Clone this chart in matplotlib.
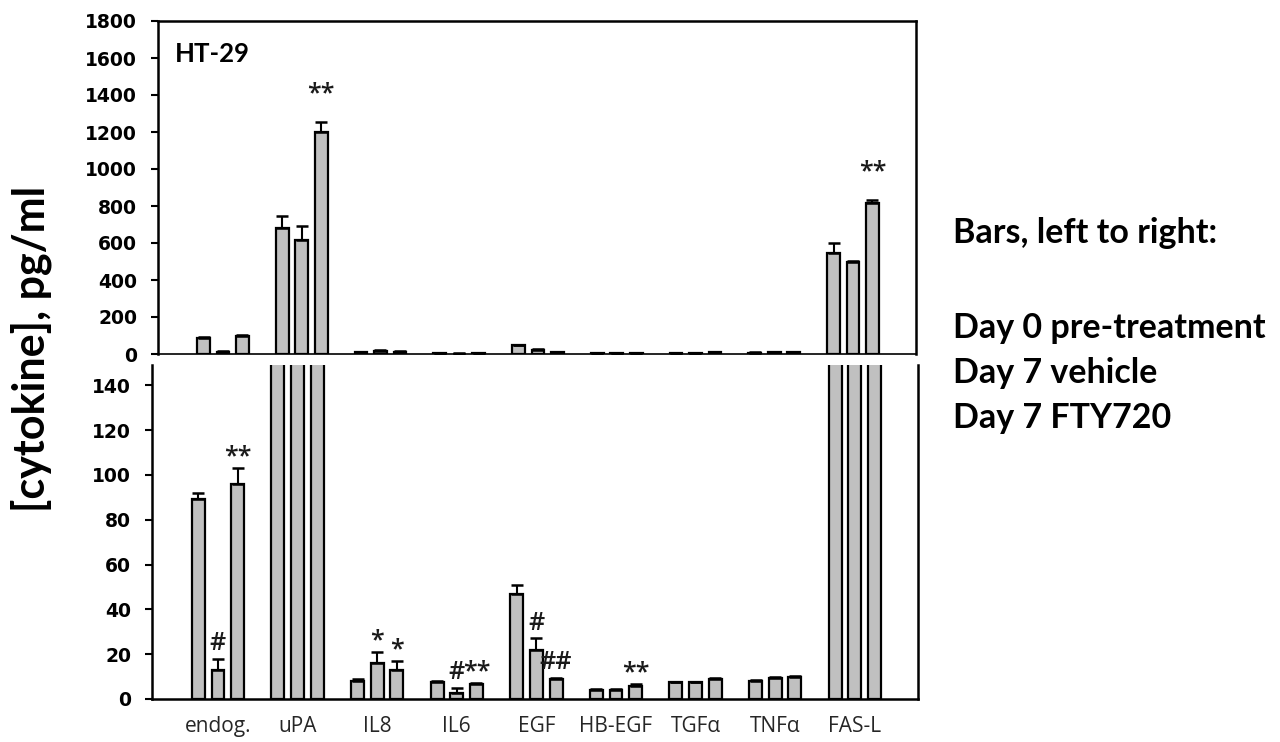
import numpy as np
import matplotlib.pyplot as plt

# ---------------------------------------------------------
# data (pg/ml)
# ---------------------------------------------------------
cytokines = ["endog.", "uPA", "IL8", "IL6", "EGF", "HB-EGF", "TGFα", "TNFα", "FAS-L"]

day0 = [89, 680, 8.2, 7.7, 47, 4.0, 7.4, 8.1, 545]
day0_err = [3, 65, 0.5, 0.3, 4, 0.3, 0.4, 0.4, 55]

vehicle = [13, 615, 16.2, 2.7, 22, 4.0, 7.4, 9.2, 500]
vehicle_err = [5, 75, 4.6, 2.3, 5, 0.3, 0.4, 0.4, 5]

fty720 = [96, 1200, 12.9, 6.7, 8.9, 6.0, 8.9, 9.9, 815]
fty720_err = [7, 55, 4, 0.5, 0.5, 0.5, 0.4, 0.4, 20]

series_labels = ["Day 0 pre-treatment", "Day 7 vehicle", "Day 7 FTY720"]

# significance marks: (cytokine, bar index, text)
marks = [
    ("endog.", 1, "#"), ("endog.", 2, "**"),
    ("uPA", 2, "**"),
    ("IL8", 1, "*"), ("IL8", 2, "*"),
    ("IL6", 1, "#"), ("IL6", 2, "**"),
    ("EGF", 1, "#"), ("EGF", 2, "##"),
    ("HB-EGF", 2, "**"),
    ("FAS-L", 2, "**"),
]

top_ticks = np.arange(0, 1801, 200)
bot_ticks = np.arange(0, 141, 20)

# ---------------------------------------------------------
# figure
# ---------------------------------------------------------
W, H = 1280, 742
fig = plt.figure(figsize=(W / 100, H / 100), dpi=100)

def px_axes(x0, y0, x1, y1):
    return fig.add_axes([x0 / W, 1 - y1 / H, (x1 - x0) / W, (y1 - y0) / H])

ax_top = px_axes(158, 21, 916, 354)
ax_bot = px_axes(152, 365, 918, 699)

means = [day0, vehicle, fty720]
errs = [day0_err, vehicle_err, fty720_err]
x = np.arange(len(cytokines))
step = 0.247
width = 0.163

tick_font = dict(family="DejaVu Sans", weight="bold", size=13.5)

for ax in (ax_top, ax_bot):
    for k in range(3):
        m = np.array(means[k], dtype=float)
        e = np.array(errs[k], dtype=float)
        ax.bar(x + (k - 1) * step, m, width, color="#c0c0c0", edgecolor="black",
               linewidth=1.6, zorder=2)
        ax.errorbar(x + (k - 1) * step, m, yerr=[np.zeros_like(e), e], fmt="none",
                    ecolor="black", elinewidth=1.5, capsize=4.5, capthick=1.8, zorder=3)
    ax.tick_params(axis="y", direction="out", length=5, width=1.5, pad=10)
    for s in ax.spines.values():
        s.set_linewidth(1.8)

# top panel
ax_top.set_xlim(-0.825, 8.8)
ax_top.set_ylim(0, 1800)
ax_top.set_yticks(top_ticks)
ax_top.set_yticklabels([str(v) for v in top_ticks], **tick_font)
ax_top.set_xticks([])
ax_top.spines["bottom"].set_linewidth(1.2)
ax_top.text(0.022, 0.9, "HT-29", transform=ax_top.transAxes, family="Lato",
            weight="bold", size=18.5, va="center", ha="left")

# bottom panel
ax_bot.set_xlim(-0.829, 8.794)
ax_bot.set_ylim(0, 149)
ax_bot.set_yticks(bot_ticks)
ax_bot.set_yticklabels([str(v) for v in bot_ticks], **tick_font)
ax_bot.set_xticks(x)
ax_bot.set_xticklabels(cytokines, family="Open Sans", size=15, color="#262626")
ax_bot.tick_params(axis="x", length=0, pad=12)
ax_bot.spines["top"].set_visible(False)

# significance marks
for name, k, txt in marks:
    i = cytokines.index(name)
    top = means[k][i] + errs[k][i]
    ax = ax_bot if top < 140 else ax_top
    if ax is ax_top:
        dy = 11
    else:
        dy = -1 if "*" in txt else 2
    ax.annotate(txt, xy=(i + (k - 1) * step, top), xytext=(0, dy),
                textcoords="offset points", ha="center", va="bottom",
                family="Open Sans", weight="semibold", size=18, color="#1a1a1a",
                zorder=4)

# y label
fig.text(31 / W, 1 - 349 / H, "[cytokine], pg/ml", rotation=90, ha="center",
         va="center", family="Lato", weight="bold", size=31)

# bar order note
fig.text(953 / W, 1 - 243 / H, "Bars, left to right:", family="Lato", weight="bold",
         size=24.5, va="baseline", ha="left")
for j, lab in enumerate(series_labels):
    fig.text(953 / W, 1 - (338 + 45 * j) / H, lab, family="Lato", weight="bold",
             size=24.5, va="baseline", ha="left")

fig.savefig("out.png", dpi=100)
